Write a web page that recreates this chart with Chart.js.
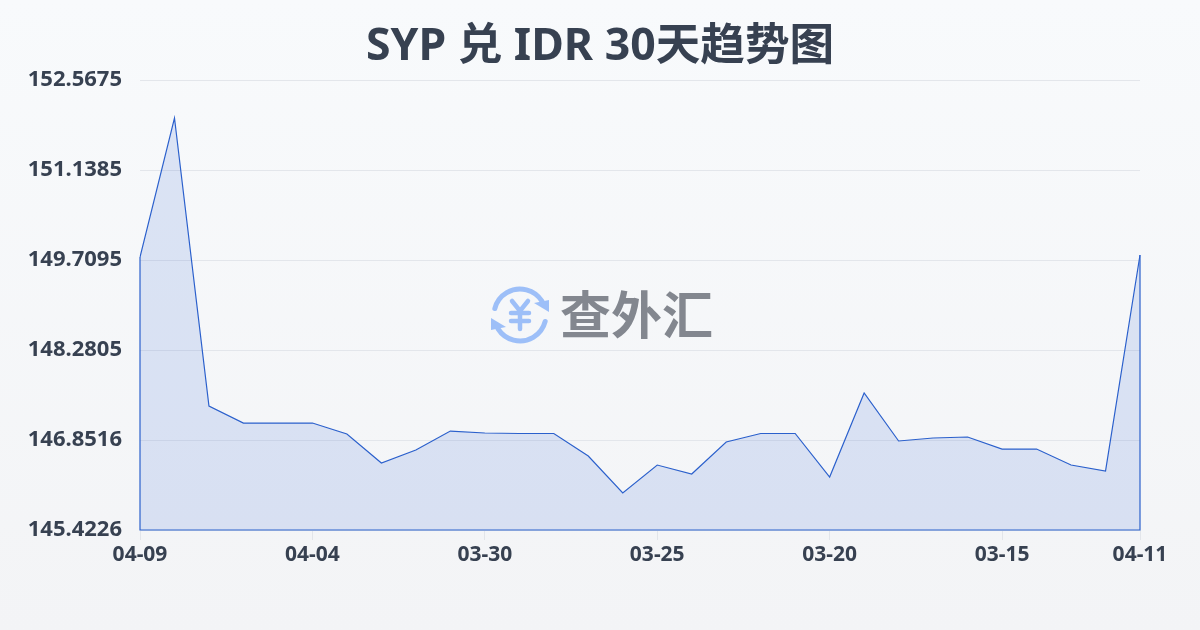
<!DOCTYPE html>
<html>
<head>
<meta charset="utf-8">
<style>
html, body { margin: 0; padding: 0; width: 1200px; height: 630px; overflow: hidden; }
body { background: linear-gradient(180deg, #f8fafc 0%, #f3f4f6 100%); }
canvas { display: block; }
</style>
<script src="https://cdn.jsdelivr.net/npm/chart.js@4"></script>
</head>
<body>
<canvas id="myChart" width="1200" height="630"></canvas>
<script>
var titleText = "SYP 兑 IDR 30天趋势图";
var watermarkText = "查外汇";
var dates = ["04-09","04-08","04-07","04-06","04-05","04-04","04-03","04-02","04-01","03-31",
             "03-30","03-29","03-28","03-27","03-26","03-25","03-24","03-23","03-22","03-21",
             "03-20","03-19","03-18","03-17","03-16","03-15","03-14","03-13","03-12","04-11"];
var rates = [149.757,151.964,147.391,147.121,147.121,147.121,146.947,146.486,146.693,146.994,
             146.963,146.955,146.955,146.597,146.010,146.454,146.312,146.820,146.955,146.955,
             146.264,147.598,146.836,146.883,146.899,146.708,146.708,146.454,146.359,149.789];
var yTicks = [145.4226,146.8516,148.2805,149.7095,151.1385,152.5675];
var xTickDates = ["04-09","04-04","03-30","03-25","03-20","03-15","04-11"];

var lineColor = "#2b60cc";
var font = "'Noto Sans', 'Noto Sans CJK SC', sans-serif";

// closes the area outline: left edge, baseline, right edge
var outline = {
  id: "outline",
  afterDatasetsDraw: function (chart) {
    var pts = chart.getDatasetMeta(0).data;
    var bottom = chart.scales.y.bottom;
    var ctx = chart.ctx;
    ctx.save();
    ctx.strokeStyle = lineColor;
    ctx.lineWidth = 1.2;
    ctx.beginPath();
    ctx.moveTo(pts[0].x, pts[0].y);
    ctx.lineTo(pts[0].x, bottom);
    ctx.lineTo(pts[pts.length - 1].x, bottom);
    ctx.lineTo(pts[pts.length - 1].x, pts[pts.length - 1].y);
    ctx.stroke();
    ctx.restore();
  }
};

// brand mark in the middle of the plot
var watermark = {
  id: "watermark",
  afterDraw: function (chart) {
    var ctx = chart.ctx;
    var cx = 520, cy = 315, r = 26;
    ctx.save();
    ctx.strokeStyle = "#9dbff8";
    ctx.fillStyle = "#9dbff8";
    ctx.lineWidth = 5;
    ctx.lineCap = "round";
    ctx.beginPath();
    ctx.arc(cx, cy, r, Math.PI * 1.08, Math.PI * 1.82);
    ctx.stroke();
    ctx.beginPath();
    ctx.arc(cx, cy, r, Math.PI * 0.08, Math.PI * 0.82);
    ctx.stroke();
    ctx.beginPath();
    ctx.moveTo(549, 300); ctx.lineTo(549, 312); ctx.lineTo(534, 303);
    ctx.closePath(); ctx.fill();
    ctx.beginPath();
    ctx.moveTo(491, 330); ctx.lineTo(491, 318); ctx.lineTo(506, 327);
    ctx.closePath(); ctx.fill();
    ctx.lineWidth = 4.5;
    ctx.beginPath();
    ctx.moveTo(512, 301); ctx.lineTo(520, 311); ctx.lineTo(528, 301);
    ctx.moveTo(520, 311); ctx.lineTo(520, 329);
    ctx.moveTo(511, 313); ctx.lineTo(529, 313);
    ctx.moveTo(511, 321); ctx.lineTo(529, 321);
    ctx.stroke();
    ctx.fillStyle = "#83878f";
    ctx.font = "bold 51px 'Noto Sans CJK SC'";
    ctx.textAlign = "left";
    ctx.textBaseline = "middle";
    ctx.fillText(watermarkText, 560, 315);
    ctx.restore();
  }
};

new Chart("myChart", {
  type: "line",
  data: {
    labels: dates,
    datasets: [{
      data: rates,
      borderColor: lineColor,
      borderWidth: 1.2,
      backgroundColor: "rgba(47,98,216,0.14)",
      fill: "start",
      tension: 0,
      pointRadius: 0
    }]
  },
  options: {
    responsive: false,
    animation: false,
    events: [],
    plugins: {
      legend: { display: false },
      tooltip: { enabled: false },
      title: {
        display: true,
        text: titleText,
        color: "#374151",
        font: { family: font, size: 44.6, weight: "bold" },
        padding: { top: 20.5, bottom: 6 }
      }
    },
    scales: {
      x: {
        afterFit: function (s) { s.height = 100; },
        afterBuildTicks: function (s) {
          s.ticks = s.ticks.filter(function (t) {
            return xTickDates.indexOf(dates[t.value]) >= 0;
          });
        },
        border: { display: false },
        grid: { drawOnChartArea: false, drawTicks: true, tickLength: 10, color: "#e2e5ea" },
        ticks: {
          autoSkip: false,
          maxRotation: 0,
          padding: 2,
          color: "#374151",
          font: { family: font, size: 21, weight: "bold" }
        }
      },
      y: {
        min: yTicks[0],
        max: yTicks[yTicks.length - 1],
        afterFit: function (s) { s.width = 140; },
        afterBuildTicks: function (s) {
          s.ticks = yTicks.map(function (v) { return { value: v }; });
        },
        border: { display: false },
        grid: { drawTicks: false, color: "#e3e6eb" },
        ticks: {
          padding: 18,
          color: "#374151",
          font: { family: font, size: 22, weight: "bold" },
          callback: function (v) { return v.toFixed(4); }
        }
      },
      // empty axis, only keeps the right margin while the title stays centred on the page
      rightMargin: {
        position: "right",
        afterFit: function (s) { s.width = 60; },
        border: { display: false },
        grid: { display: false },
        ticks: { display: false }
      }
    }
  },
  plugins: [outline, watermark]
});
</script>
</body>
</html>
